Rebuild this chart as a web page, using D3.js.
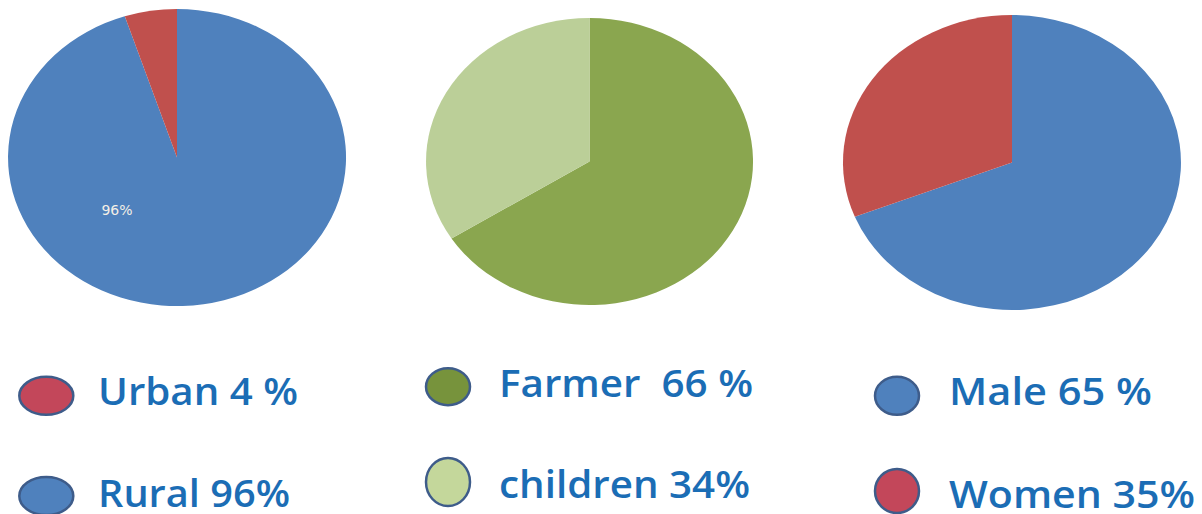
<!DOCTYPE html>
<html>
<head>
<meta charset="utf-8">
<script src="https://cdn.jsdelivr.net/npm/d3@7"></script>
<style>
  html, body { margin: 0; padding: 0; background: #ffffff; }
  svg { display: block; }
</style>
</head>
<body>
<svg id="chart" width="1202" height="514"></svg>
<script>
// ---- data ----
const residenceCategories = ["Rural", "Urban"];
const residenceValues = [95, 5];
const occupationCategories = ["Farmer", "children"];
const occupationValues = [66, 34];
const genderCategories = ["Male", "Women"];
const genderValues = [69, 31];

const residenceLegend = ["Urban 4 %", "Rural 96%"];
const occupationLegend = ["Farmer\u00a0\u00a066 %", "children 34%"];
const genderLegend = ["Male 65 %", "Women 35%"];
const residenceInsideLabel = "96%";

// ---- styling / layout ----
const pieColors = {
  Rural: "#4F81BD", Urban: "#C0504D",
  Farmer: "#8AA64F", children: "#BBCF98",
  Male: "#4F81BD", Women: "#C0504D"
};
const markerColors = {
  Urban: "#C3475A", Rural: "#4F81BD",
  Farmer: "#77933C", children: "#C4D79B",
  Male: "#4F81BD", Women: "#C3475A"
};

const svg = d3.select("#chart");

const pieSpecs = [
  { cats: residenceCategories, vals: residenceValues, cx: 177, cy: 157.5, rx: 169, ry: 148.5 },
  { cats: occupationCategories, vals: occupationValues, cx: 589.5, cy: 161.5, rx: 163.5, ry: 143.5 },
  { cats: genderCategories, vals: genderValues, cx: 1012, cy: 162.5, rx: 169, ry: 147.5 }
];

const pieGen = d3.pie().sort(null).value(d => d.value);
const arcGen = d3.arc().innerRadius(0).outerRadius(1);

pieSpecs.forEach(spec => {
  const data = spec.cats.map((c, i) => ({ cat: c, value: spec.vals[i] }));
  const g = svg.append("g")
    .attr("transform", `translate(${spec.cx},${spec.cy}) scale(${spec.rx},${spec.ry})`);
  g.selectAll("path")
    .data(pieGen(data))
    .join("path")
    .attr("d", arcGen)
    .attr("fill", d => pieColors[d.data.cat]);
});

// inside label on first pie
svg.append("text")
  .attr("x", pieSpecs[0].cx + pieSpecs[0].rx * -0.355)
  .attr("y", pieSpecs[0].cy + pieSpecs[0].ry * 0.36)
  .attr("text-anchor", "middle")
  .attr("dominant-baseline", "middle")
  .attr("font-family", "DejaVu Sans, Verdana, sans-serif")
  .attr("font-size", 14)
  .attr("fill", "#f4efe6")
  .text(residenceInsideLabel);

// ---- legends ----
const legendSpecs = [
  { labels: residenceLegend, cats: ["Urban", "Rural"], mx: 46.3, tx: 98,
    rows: [{ my: 395.8, rx: 27, ry: 19, ty: 405, w: 200 }, { my: 496, rx: 27, ry: 19, ty: 507, w: 192 }] },
  { labels: occupationLegend, cats: ["Farmer", "children"], mx: 448, tx: 499,
    rows: [{ my: 386.7, rx: 22, ry: 18.5, ty: 397, w: 254 }, { my: 482, rx: 22, ry: 24, ty: 498, w: 251 }] },
  { labels: genderLegend, cats: ["Male", "Women"], mx: 897, tx: 949,
    rows: [{ my: 395.8, rx: 22, ry: 19, ty: 405, w: 203 }, { my: 491, rx: 22, ry: 22, ty: 508, w: 246 }] }
];

legendSpecs.forEach(spec => {
  spec.rows.forEach((r, i) => {
    svg.append("ellipse")
      .attr("cx", spec.mx).attr("cy", r.my)
      .attr("rx", r.rx).attr("ry", r.ry)
      .attr("fill", markerColors[spec.cats[i]])
      .attr("stroke", "#3E5C8A")
      .attr("stroke-width", 2.5);
    svg.append("text")
      .attr("x", spec.tx).attr("y", r.ty)
      .attr("font-family", "Open Sans, Noto Sans, sans-serif")
      .attr("font-weight", 600)
      .attr("font-size", 37)
      .attr("textLength", r.w)
      .attr("lengthAdjust", "spacingAndGlyphs")
      .attr("fill", "#1B6DB5")
      .text(spec.labels[i]);
  });
});
</script>
</body>
</html>
